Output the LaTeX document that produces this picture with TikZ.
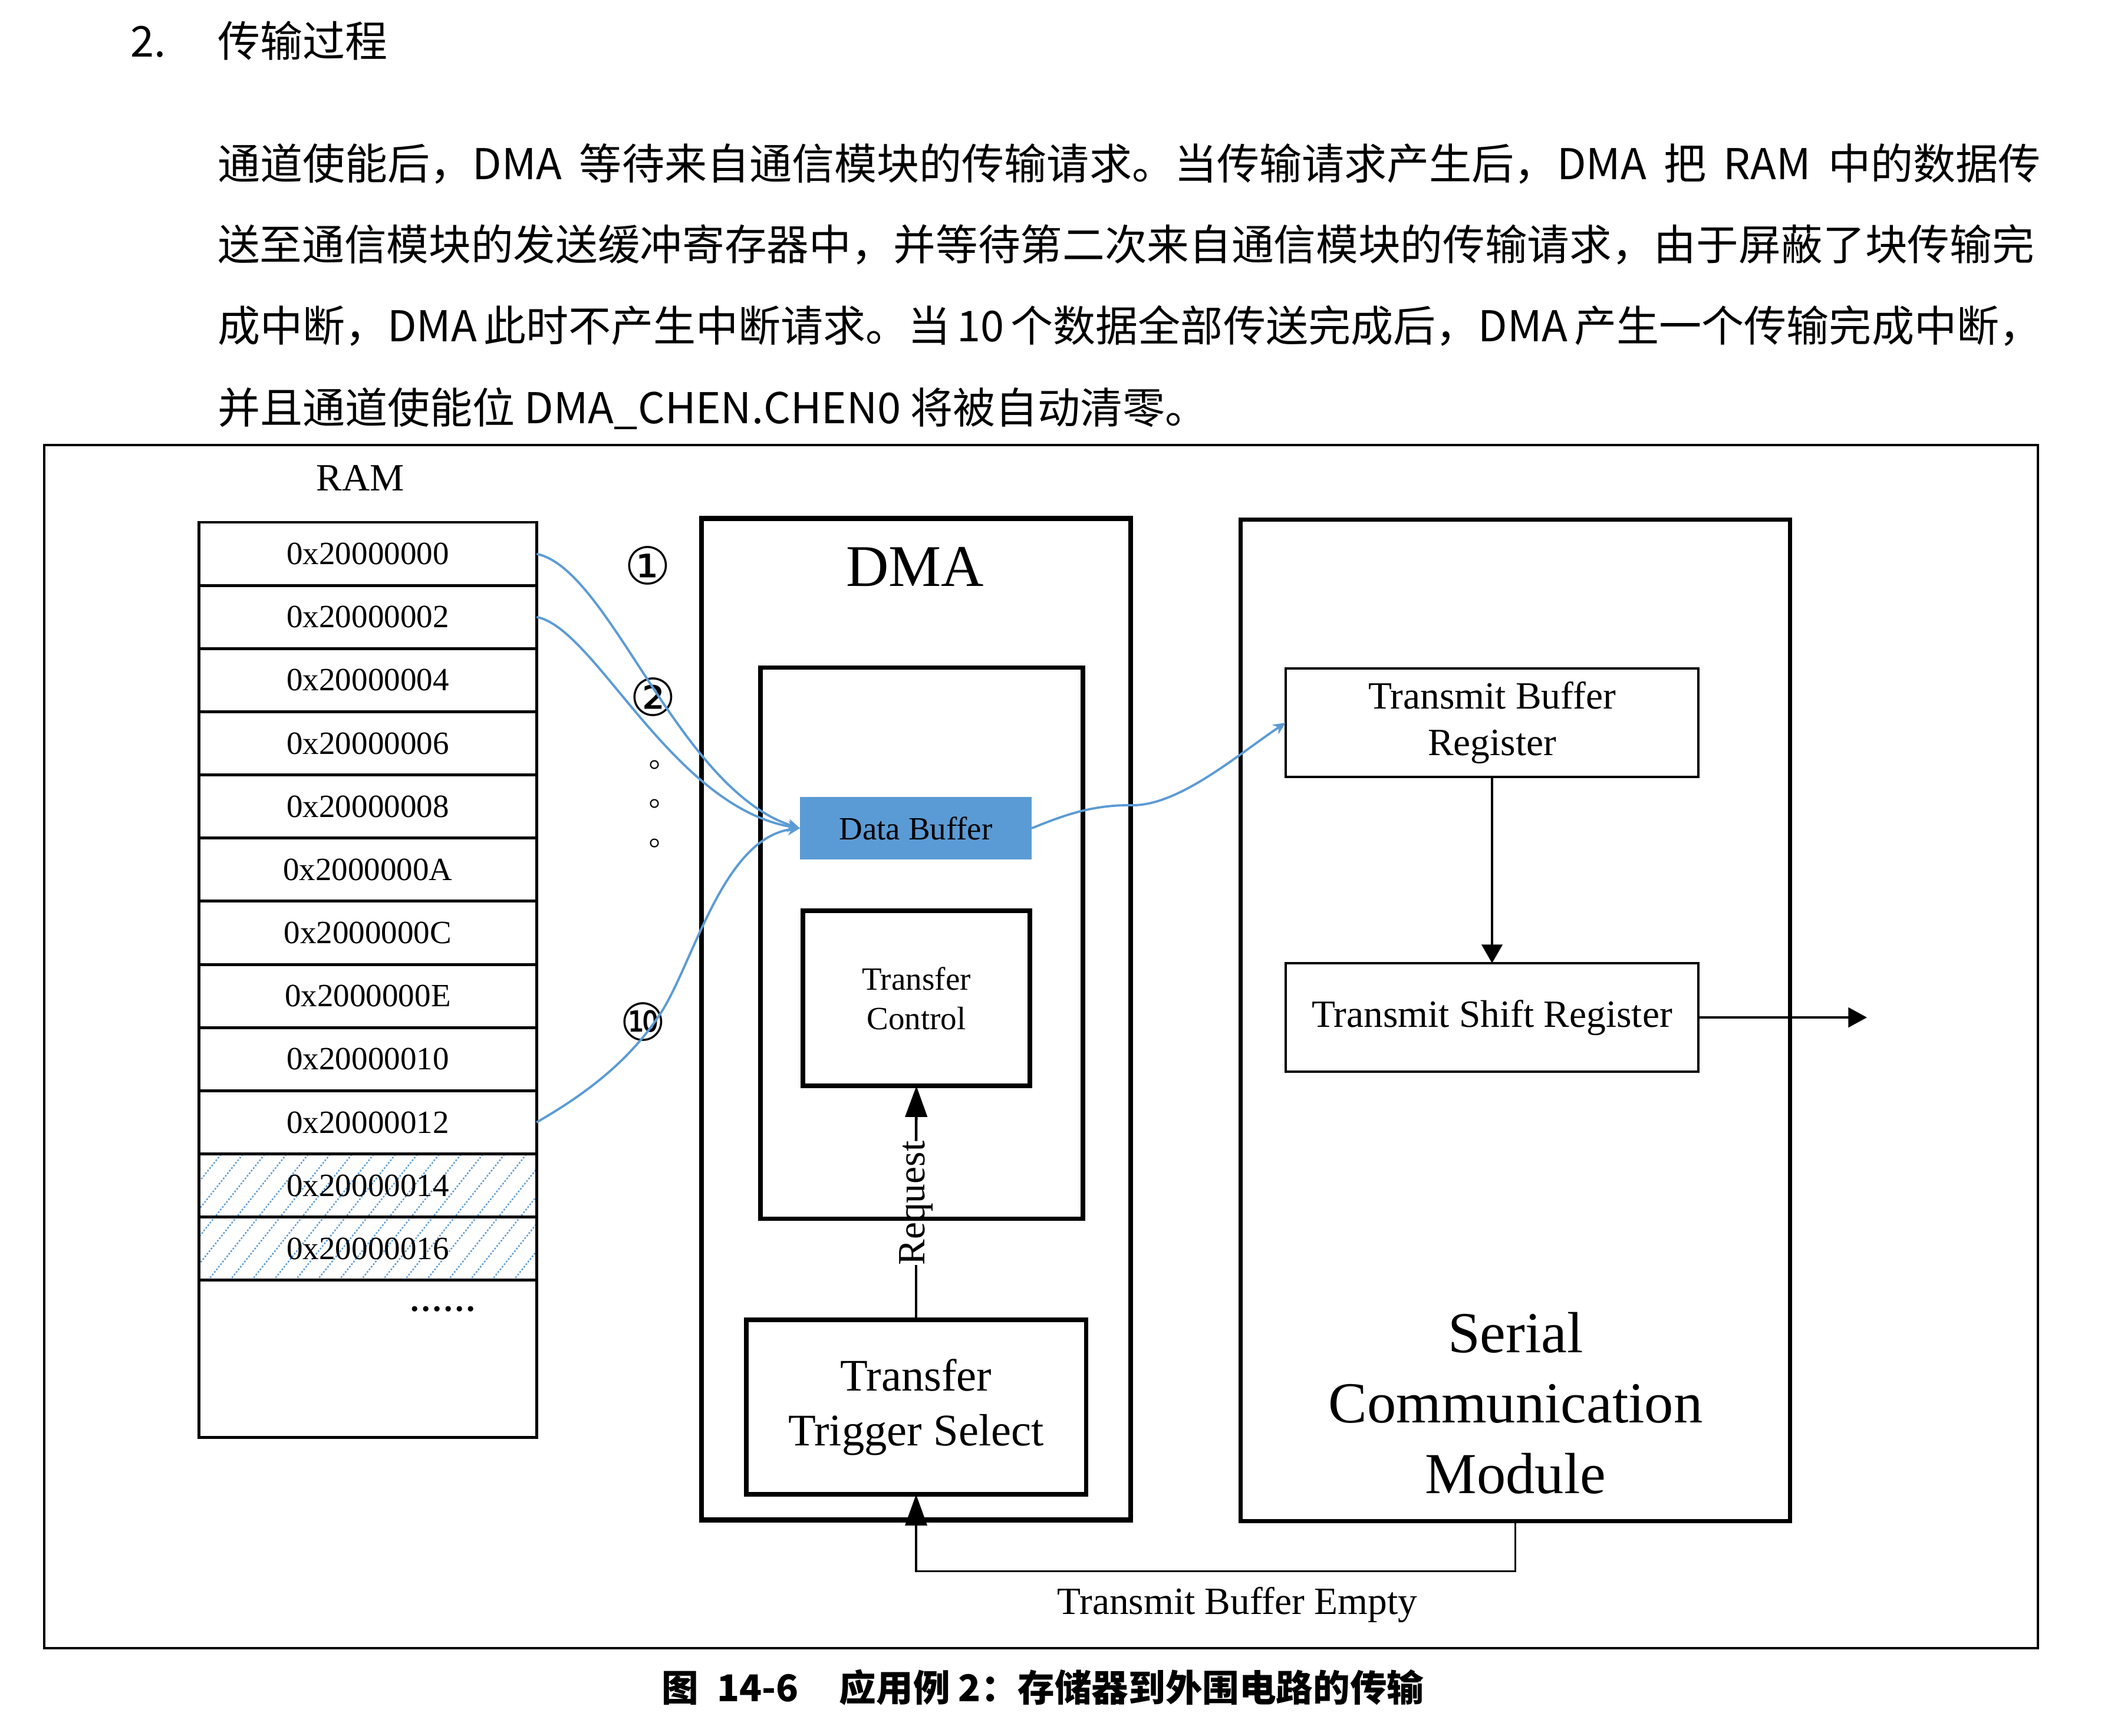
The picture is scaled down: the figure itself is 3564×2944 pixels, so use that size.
\documentclass[tikz,border=0pt]{standalone}
\usepackage{fontspec}
\setmainfont{Liberation Serif}
\newfontfamily\cjk{Noto Sans CJK SC}
\newfontfamily\circfont{DejaVu Sans}
\usetikzlibrary{arrows.meta}
\XeTeXlinebreaklocale "zh"
\XeTeXlinebreakskip=0pt plus 4pt minus 0.6pt
\definecolor{dbblue}{HTML}{5B9BD5}
\newcommand\fsz[2]{\fontsize{#1pt}{#2pt}\selectfont}
\begin{document}
\begin{tikzpicture}[x=0.01cm,y=-0.01cm,
  every node/.style={inner sep=0pt, outer sep=0pt},
  ramcell/.style={draw, line width=1.4pt, minimum width=5.72cm, minimum height=1.0715cm, font=\fsz{15.65}{18}},
  outerbox/.style={draw, line width=2.4pt},
  midbox/.style={draw, line width=2.1pt},
  thinbox/.style={draw, line width=1.1pt},
  bluecurve/.style={draw=dbblue, line width=1.1pt, -{Stealth[length=6pt,width=5.5pt]}},
  conn/.style={line width=1.1pt},
  hatch/.style={draw=dbblue, line width=0.7pt, dash pattern=on 0.8pt off 0.8pt},
  para/.style={anchor=base west, font=\cjk\fsz{20.5}{24}},
  lbl/.style={font=\fsz{18.6}{22}},
  circnum/.style={font=\circfont\fsz{25}{28}},
  dot/.style={circle, draw, line width=0.6pt, minimum size=0.13cm}
]
\useasboundingbox (0,0) rectangle (3564,2944);

% ---------- text above ----------
\node[para] (secnum) at (221,96) {2.};
\node[para] (sectitle) at (369,96) {传输过程};
\node[para] (p1) at (369,304) {\makebox[30.91cm][s]{通道使能后，DMA 等待来自通信模块的传输请求。当传输请求产生后，DMA 把 RAM 中的数据传}};
\node[para, font=\cjk\fsz{20.38}{24}] (p2) at (369,441) {\makebox[30.91cm][s]{送至通信模块的发送缓冲寄存器中，并等待第二次来自通信模块的传输请求，由于屏蔽了块传输完}};
\node[para] (p3) at (369,579) {\makebox[30.91cm][s]{成中断，DMA 此时不产生中断请求。当 10 个数据全部传送完成后，DMA 产生一个传输完成中断，}};
\node[para] (p4) at (369,718) {并且通道使能位 DMA\_CHEN.CHEN0 将被自动清零。};

% ---------- frame ----------
\draw[line width=1pt] (75,755) rectangle (3457,2796);

% ---------- RAM ----------
\node[lbl] (ramlbl) at (611,811) {RAM};
\begin{scope}
  \clip (338,1958) rectangle (910,2172);
  \foreach \k in {0,...,22} \draw[hatch] ({168+\k*37},2172) -- ++(170,-214);
\end{scope}
\foreach \lab [count=\i from 0] in {0x20000000,0x20000002,0x20000004,0x20000006,0x20000008,0x2000000A,0x2000000C,0x2000000E,0x20000010,0x20000012,0x20000014,0x20000016}
  \node[ramcell] (r\i) at (624,{939.6+107.15*\i}) {\lab};
\node[draw, line width=1.4pt, minimum width=5.72cm, minimum height=2.66cm] (ramrest) at (624,2305) {};
\node[anchor=base, font=\bfseries\fsz{16}{18}] (dots) at (751,2224) {……};

% ---------- markers ----------
\node[circnum] (c1) at (1099,959) {①};
\node[circnum] (c2) at (1108,1182) {②};
\node[dot] (o1) at (1110,1297) {};
\node[dot] (o2) at (1110,1363) {};
\node[dot] (o3) at (1110,1430) {};
\node[circnum] (c10) at (1091,1733) {⑩};

% ---------- DMA ----------
\node[outerbox, minimum width=7.275cm, minimum height=16.98cm] (dma) at (1554,1729) {};
\node[font=\fsz{28.5}{32}] (dmalbl) at (1552,961) {DMA};
\node[midbox, minimum width=5.47cm, minimum height=9.34cm] (inner) at (1563.5,1600) {};
\node[fill=dbblue, minimum width=3.93cm, minimum height=1.06cm, font=\fsz{15.65}{18}] (databuf) at (1553.5,1405) {Data Buffer};
\node[midbox, minimum width=3.85cm, minimum height=2.97cm, align=center, font=\fsz{15.65}{19}] (tc) at (1554.5,1693.5) {Transfer\\Control};
\node[midbox, minimum width=5.76cm, minimum height=2.96cm, align=center, font=\fsz{21.8}{26.5}] (tts) at (1554,2387) {Transfer\\Trigger Select};
\node[lbl, rotate=90] (req) at (1554,2041) {Request};
\draw[line width=1.3pt] (tts.north) -- (req.west);
\draw[line width=1.3pt, -{Triangle[length=15pt,width=10.5pt]}] (req.east) -- (tc.south);

% ---------- Serial module ----------
\node[draw, line width=1.9pt, minimum width=9.31cm, minimum height=16.98cm] (scm) at (2570.5,1731) {};
\node[align=center, font=\fsz{28}{34}] (scmlbl) at (2571,2380) {Serial\\Communication\\Module};
\node[thinbox, minimum width=7cm, minimum height=1.84cm, align=center, font=\fsz{18.6}{22.6}] (tbr) at (2531,1226) {Transmit Buffer\\Register};
\node[thinbox, minimum width=7cm, minimum height=1.84cm, lbl] (tsr) at (2531,1726) {Transmit Shift Register};
\draw[conn, -{Triangle[length=9pt,width=10pt]}] (tbr.south) -- (tsr.north);
\coordinate (outend) at (3167,1726);
\draw[conn, -{Triangle[length=9pt,width=9.5pt]}] (tsr.east) -- (outend);

% ---------- feedback ----------
\draw[conn, -{Triangle[length=15pt,width=10.5pt]}] (scm.south) -- ++(0,85) -| (tts.south);
\node[lbl] (tbe) at (2099,2722) {Transmit Buffer Empty};

% ---------- blue data paths ----------
\draw[bluecurve] (r0.east) .. controls (1035,965) and (1150,1340) .. (databuf.west);
\draw[bluecurve] (r1.east) .. controls (1010,1065) and (1140,1370) .. (databuf.west);
\draw[bluecurve] (r9.east) .. controls (990,1858) and (1070,1800) .. (1125,1712) .. controls (1180,1620) and (1230,1420) .. (databuf.west);
\draw[bluecurve] (databuf.east) .. controls (1800,1385) and (1850,1365) .. (1920,1366) .. controls (2000,1367) and (2100,1280) .. (tbr.west);

% ---------- caption ----------
\node[anchor=base, font=\cjk\bfseries\fsz{17.8}{20}] (cap) at (1769,2886) {图\hspace{0.5em}14-6\hspace{1.1em}应用例 2：存储器到外围电路的传输};
\end{tikzpicture}
\end{document}
